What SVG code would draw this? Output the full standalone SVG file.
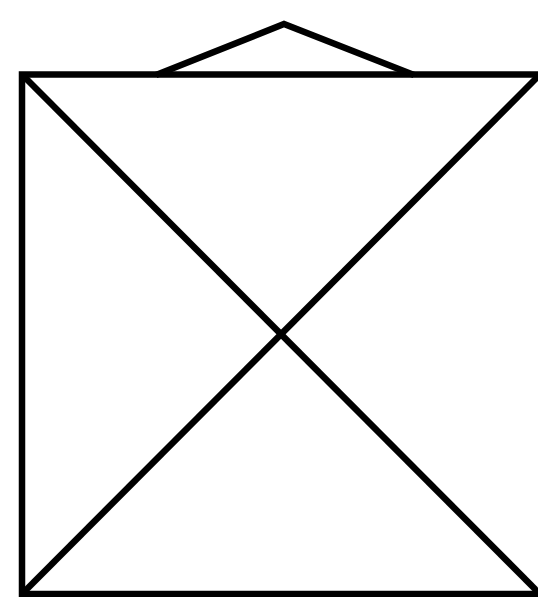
<svg xmlns="http://www.w3.org/2000/svg" width="538" height="597" viewBox="0 0 538 597">
<style>.s{fill:none;stroke:#000;stroke-width:6.5;stroke-linejoin:miter;stroke-linecap:butt}</style>
<rect width="538" height="597" fill="#fff"/>
<g id="roof"><polyline class="s" points="156,75 284,24 414,75"/></g>
<g id="box"><rect class="s" x="22" y="74.5" width="522" height="519.5"/></g>
<g id="connectors">
<line class="s" x1="22" y1="74.5" x2="540" y2="594"/>
<line class="s" x1="22" y1="594" x2="540" y2="74.5"/>
</g>
</svg>
